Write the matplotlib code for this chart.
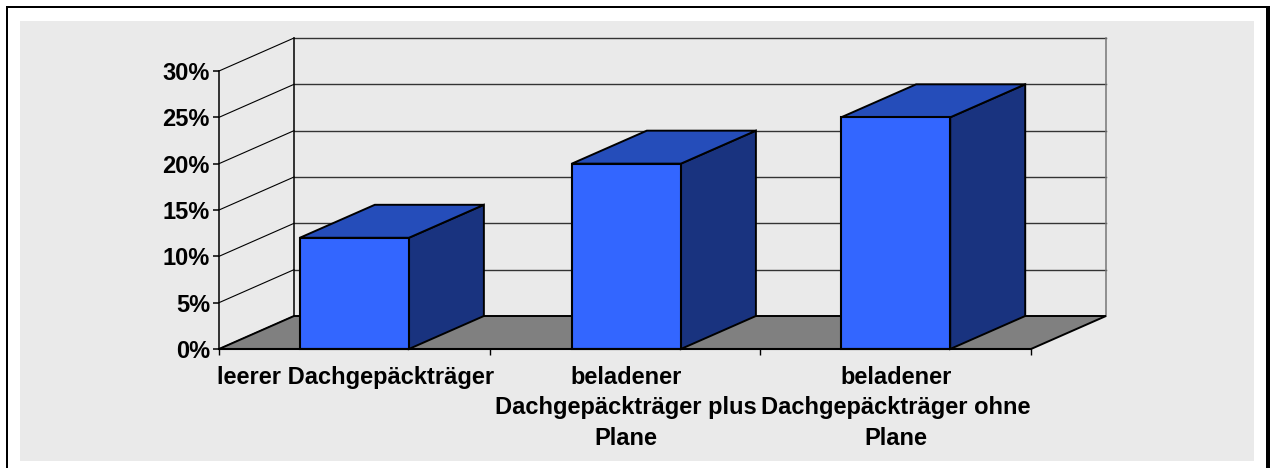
import matplotlib
matplotlib.use('Agg')
import matplotlib.pyplot as plt
from matplotlib.patches import Polygon, Rectangle

categories = ['leerer Dachgepäckträger',
              'beladener\nDachgepäckträger plus\nPlane',
              'beladener\nDachgepäckträger ohne\nPlane']
values = [12, 20, 25]
y_ticks = [0, 5, 10, 15, 20, 25, 30]
y_labels = ['0%', '5%', '10%', '15%', '20%', '25%', '30%']

W, H = 1272, 468
plt.rcParams['font.family'] = ['Liberation Sans', 'DejaVu Sans']

fig = plt.figure(figsize=(W / 100, H / 100), dpi=100, facecolor='white')


def fig_rect(x0, y0, x1, y1, color):
    fig.patches.append(Rectangle((x0 / W, 1 - y1 / H), (x1 - x0) / W, (y1 - y0) / H,
                                 transform=fig.transFigure, facecolor=color,
                                 edgecolor='none', zorder=-5))


# outer frame and grey panel
fig_rect(20, 21, 1254, 461, '#EAEAEA')
fig_rect(6, 6, 1268, 8, 'black')
fig_rect(6, 6, 8, 468, 'black')
fig_rect(1266, 6, 1270, 468, 'black')

ax = fig.add_axes([219 / W, 1 - 349 / H, 812 / W, 278 / H])
ax.patch.set_visible(False)
ax.set_xlim(0, 3)
ax.set_ylim(0, 30)
for name in ['top', 'right']:
    ax.spines[name].set_visible(False)
ax.spines['left'].set_linewidth(1.1)
ax.spines['bottom'].set_linewidth(1.5)
ax.spines['left'].set_zorder(6)
ax.spines['bottom'].set_zorder(6)

# depth of the fake 3d box, in data units
dx = 75 / (812 / 3)
dy = 33 / (278 / 30)
bar_w = 0.403

# walls
for v in y_ticks:
    ax.plot([0, dx], [v, v + dy], color='black', lw=0.8, clip_on=False, zorder=1)
    if v > 0:
        ax.plot([dx, 3 + dx], [v + dy, v + dy], color='#333333', lw=1.0, clip_on=False, zorder=1)
ax.plot([dx, dx], [dy, 30 + dy], color='black', lw=1.1, clip_on=False, zorder=1)
ax.plot([3 + dx, 3 + dx], [dy, 30 + dy], color='#777777', lw=1.1, clip_on=False, zorder=1)

# floor
ax.add_patch(Polygon([(0, 0), (3, 0), (3 + dx, dy), (dx, dy)], closed=True, facecolor='#808080',
                     edgecolor='black', lw=1.4, clip_on=False, zorder=2))

# bars
centres = [0.5, 1.505, 2.5]
for c, v in zip(centres, values):
    left, right = c - bar_w / 2, c + bar_w / 2
    ax.add_patch(Polygon([(right, 0), (right + dx, dy), (right + dx, v + dy), (right, v)], closed=True,
                         facecolor='#19337F', edgecolor='black', lw=1.4, clip_on=False, zorder=3))
    ax.add_patch(Polygon([(left, v), (right, v), (right + dx, v + dy), (left + dx, v + dy)], closed=True,
                         facecolor='#254DBA', edgecolor='black', lw=1.4, clip_on=False, zorder=3))
    ax.bar(c, v, width=bar_w, color='#3366FF', edgecolor='black', linewidth=1.5, zorder=4, clip_on=False)

ax.set_yticks(y_ticks)
ax.set_yticklabels(y_labels, fontsize=17, fontweight='bold')
ax.tick_params(axis='y', length=4, width=1.1, pad=2.5)

ax.set_xticks([0, 1, 2, 3])
ax.set_xticklabels([])
ax.tick_params(axis='x', which='major', length=4, width=1.0)
ax.set_xticks([0.505, 1.505, 2.5], minor=True)
ax.set_xticklabels(categories, minor=True, fontsize=17, fontweight='bold', linespacing=1.43)
ax.tick_params(axis='x', which='minor', length=0, pad=12)

fig.savefig('out.png', dpi=100)
